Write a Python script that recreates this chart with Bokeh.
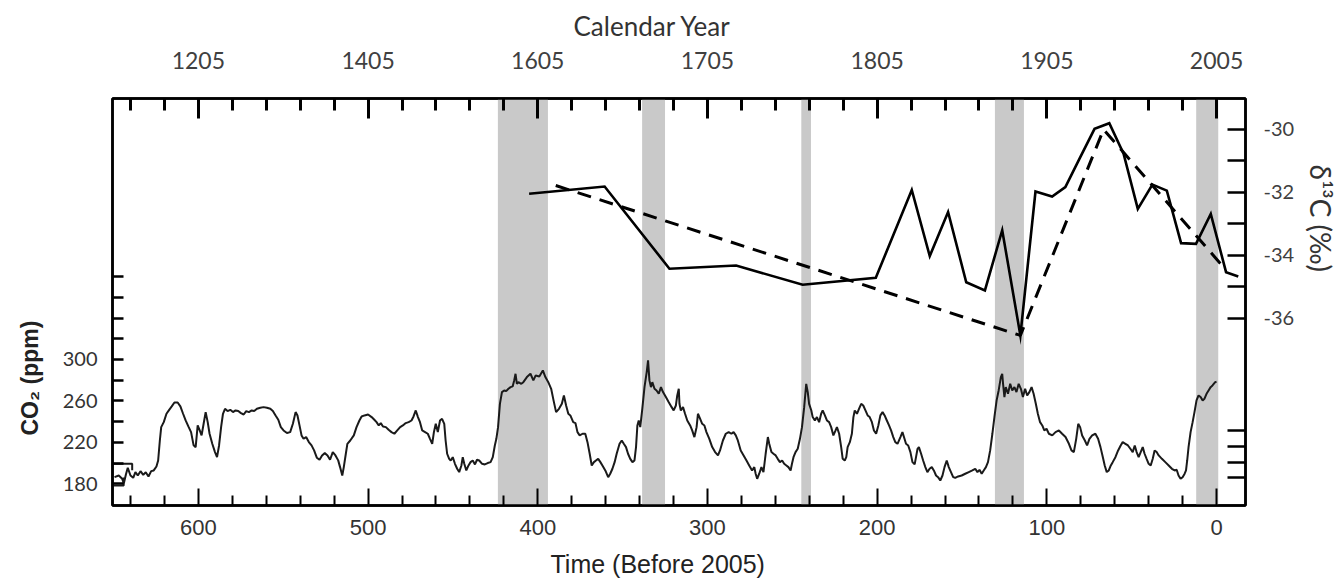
from bokeh.plotting import figure
from bokeh.models import Range1d, LinearAxis, FixedTicker, Title, ColumnDataSource
from bokeh.embed import file_html
from bokeh.resources import INLINE

# ---------------------------------------------------------------------------
# Data
# ---------------------------------------------------------------------------
# Atmospheric CO2 record (years before 2005, ppm)
co2_year = [
    649.4, 646.9, 644.9, 643.9, 642.7, 641.6, 640.0, 638.4, 637.1, 635.7, 634.1, 632.5,
    631.0, 629.4, 627.8, 626.3, 624.7, 623.7, 622.7, 621.9, 620.4, 618.8, 617.2, 615.7,
    614.1, 612.2, 610.6, 609.0, 607.5, 605.9, 604.3, 602.8, 601.6, 600.4, 599.2, 598.1,
    596.9, 595.7, 594.5, 593.4, 591.8, 590.2, 589.0, 587.8, 586.6, 585.5, 584.3, 582.8,
    581.2, 579.6, 578.1, 576.5, 574.9, 573.3, 571.8, 570.2, 568.6, 567.1, 565.5, 563.5,
    561.6, 559.6, 557.6, 556.1, 554.5, 552.9, 551.4, 549.8, 547.8, 545.9, 544.3, 542.7,
    541.6, 540.4, 539.2, 538.0, 536.5, 534.9, 533.3, 531.8, 530.2, 528.6, 527.1, 525.5,
    523.9, 522.4, 520.8, 519.2, 517.6, 516.5,
    515.2, 514.3, 513.1, 512.2, 510.5, 508.4, 506.8, 505.1, 503.8, 502.1, 500.0, 497.9,
    496.3, 495.0, 493.7, 492.5, 491.2, 489.5, 487.9, 486.2, 484.5, 482.8, 481.1, 479.5,
    477.8, 476.1, 474.4, 473.2, 471.9, 470.6, 469.4, 468.1, 466.4, 464.8, 463.5, 462.2,
    461.2, 460.1, 458.9, 457.6, 456.4, 455.1, 454.3, 453.4, 452.2, 451.3, 450.1, 448.8,
    447.5, 446.3, 445.0, 444.2, 443.3, 442.1, 440.8, 439.6, 438.3, 437.0, 435.8, 434.5,
    432.8, 431.2, 429.5, 427.8, 426.5, 425.3, 424.4, 423.4, 422.3, 421.1, 419.8, 418.6,
    417.3, 416.0, 414.8, 413.9, 413.1, 412.3, 411.4, 409.7,
    408.5, 406.4, 404.3, 402.6, 401.2, 399.1, 397.0, 395.5, 393.8, 392.1, 390.7, 389.2,
    387.5, 385.8, 384.6, 383.3, 382.0, 380.8, 379.1, 377.8, 376.6, 375.3, 373.6, 372.0,
    370.7, 369.4, 368.2, 366.9, 365.7, 364.4, 363.1, 361.9, 360.2, 358.5, 357.3, 356.0,
    354.7, 353.5, 351.8, 350.5, 349.3, 348.0, 346.8, 345.5, 344.2, 343.0, 342.1, 341.3,
    340.5, 339.6, 338.4, 337.1, 335.8, 335.0, 334.2, 333.3, 332.5, 331.2, 330.0, 328.7,
    327.4, 326.2, 324.5, 322.8, 321.1, 319.9, 318.6, 317.8, 316.9, 316.5, 315.7, 314.4,
    313.2, 311.9, 310.2, 309.0, 307.7, 306.4, 305.6, 304.3, 303.1, 301.8, 300.6, 298.9,
    297.2, 295.5, 293.8, 292.6, 290.9, 289.2, 287.5, 285.9, 284.6, 283.3, 282.1, 280.4,
    278.7, 277.0, 275.4, 273.7, 272.4, 271.6, 270.7, 269.5, 268.2, 267.0, 265.7, 264.4,
    263.6, 262.3, 261.1, 259.8, 258.6, 257.3, 256.0, 254.8, 253.5, 252.3, 251.0, 250.2,
    249.3, 248.1, 246.8, 245.5, 244.3, 243.0, 241.8, 240.9, 240.1, 238.8, 238.0, 236.7,
    235.5, 234.2, 233.0, 232.1, 230.8, 229.6, 228.3, 227.1, 225.8, 224.5, 223.7, 222.4,
    221.2, 220.3, 219.1, 218.2, 217.4, 216.1, 214.9, 214.0, 213.2, 211.9, 210.7, 209.4,
    208.2, 206.9, 205.6, 204.4, 203.1, 201.9, 200.6, 199.3, 198.1, 196.8, 195.6, 194.3,
    193.0, 191.8, 190.5, 189.3, 188.0, 186.3, 185.1, 184.2, 183.0, 181.7, 180.4, 179.2,
    177.9, 177.1, 176.2, 175.4, 174.1, 172.9, 171.6, 170.4, 169.1, 167.8, 166.6, 165.3,
    164.1, 162.8, 161.5, 160.3, 159.0, 157.8, 156.5, 155.2, 154.0, 152.3, 150.2, 148.1,
    146.0, 143.9, 142.2, 140.9, 139.7, 138.4, 137.2, 135.9, 134.7, 133.4, 132.1, 130.9,
    129.6, 128.4, 127.1, 126.3, 125.8, 125.0, 124.2, 122.9, 121.6, 120.4, 119.1, 117.9,
    116.6, 115.3, 114.1, 112.8, 111.6, 110.3, 109.0, 107.8, 106.5, 105.3, 104.0, 102.7,
    101.5, 100.2,
    98.8, 96.8, 94.9, 92.9, 91.0, 89.0, 87.0, 85.5, 84.1, 82.7, 81.5, 80.4,
    79.2, 77.6, 76.3, 74.9, 73.3, 71.4, 69.8, 68.4, 67.0, 65.9, 64.7, 63.5,
    62.3, 61.2, 59.6, 58.0, 56.5, 55.3, 53.7, 52.2, 50.8, 49.4, 48.2, 47.1,
    45.9, 44.7, 43.5, 42.4, 41.2, 40.0, 38.8, 37.6, 36.5, 35.3, 34.1, 32.2,
    30.2, 28.2, 26.3, 24.7, 23.5, 22.4, 21.2, 20.0, 18.8, 18.0, 17.3, 16.5,
    15.3, 14.1, 13.0, 11.8, 10.6, 9.4, 8.2, 7.1, 5.9, 4.7, 3.5, 2.4, 0.8, 0.0,
]
co2_ppm = [
    186.4, 188.0, 184.8, 180.6, 189.0, 195.4, 188.0, 185.8, 191.2, 188.0, 192.2, 188.6,
    191.2, 187.0, 192.2, 192.9, 196.7, 202.5, 221.8, 234.7, 239.5, 247.6, 251.4, 254.7,
    258.5, 258.5, 254.7, 247.6, 241.2, 235.4, 229.9, 217.1, 215.4, 236.4, 231.5, 226.7,
    238.0, 249.2, 239.5, 228.3, 218.7, 210.6, 205.8, 217.0, 234.7, 247.6, 252.4, 250.2,
    251.4, 249.2, 250.8, 250.2, 248.2, 246.9, 250.2, 249.2, 250.8, 250.2, 252.4, 253.4,
    254.0, 253.4, 252.4, 250.2, 245.9, 241.8, 234.7, 231.5, 229.0, 229.9, 238.0, 249.2,
    245.9, 236.4, 226.7, 223.5, 225.1, 220.3, 217.1, 212.3, 205.2, 203.2, 207.4, 209.6,
    207.4, 203.2, 210.6, 207.4, 202.6, 196.1,
    188.0, 196.1, 209.0, 218.6, 221.8, 226.7, 234.7, 241.1, 245.0, 246.0, 246.9, 244.4,
    241.8, 239.5, 236.3, 238.6, 235.3, 234.7, 232.1, 229.9, 228.3, 231.5, 234.7, 236.3,
    238.6, 239.5, 241.1, 245.0, 250.8, 244.4, 239.5, 231.5, 229.9, 228.3, 223.4, 218.6,
    229.9, 237.9, 229.9, 241.1, 242.7, 237.9, 221.8, 209.0, 204.1, 202.5, 205.7, 199.3,
    194.5, 191.3, 197.7, 205.7, 199.3, 192.9, 197.7, 200.9, 202.5, 198.7, 203.2, 202.5,
    199.3, 198.7, 200.0, 200.9, 205.7, 217.0, 223.4, 234.7, 257.2, 268.5, 270.1, 269.5,
    271.7, 273.3, 274.0, 279.8, 286.2, 276.5, 278.1, 276.5,
    278.1, 283.0, 286.2, 279.8, 284.6, 283.6, 289.4, 283.0, 278.1, 271.7, 260.5, 249.2,
    252.4, 257.2, 265.3, 255.6, 247.6, 246.0, 239.5, 238.6, 229.9, 226.7, 228.3, 228.3,
    220.2, 209.0, 197.7, 200.9, 202.5, 204.1, 200.9, 197.7, 192.9, 186.4, 189.7, 194.5,
    200.9, 209.0, 218.6, 221.8, 218.6, 215.4, 209.0, 204.1, 200.9, 202.5, 215.4, 236.3,
    241.1, 234.7, 252.4, 273.3, 287.8, 299.1, 279.8, 273.3, 278.1, 271.7, 270.1, 266.9,
    273.3, 268.5, 263.7, 258.8, 254.0, 250.8, 255.6, 265.3, 271.7, 257.2, 250.8, 254.0,
    247.6, 241.1, 236.3, 231.5, 225.1, 234.7, 247.6, 242.7, 237.9, 236.3, 229.9, 223.4,
    215.4, 210.6, 207.4, 212.2, 221.8, 228.3, 229.9, 228.3, 229.9, 226.7, 221.8, 212.2,
    207.4, 202.5, 197.7, 192.9, 196.1, 189.7, 184.8, 189.7, 196.1, 191.3, 209.0, 225.1,
    218.6, 210.6, 209.0, 207.4, 204.1, 200.9, 202.5, 199.3, 197.7, 196.1, 192.9, 199.3,
    205.7, 210.6, 213.8, 223.4, 234.7, 254.0, 276.5, 268.5, 257.2, 250.8, 244.4, 241.1,
    244.4, 239.5, 247.6, 250.8, 246.0, 241.1, 239.5, 234.7, 226.7, 231.5, 234.7, 228.3,
    215.4, 204.1, 202.5, 205.7, 215.4, 220.2, 228.3, 244.4, 250.8, 247.6, 252.4, 257.2,
    255.6, 250.8, 246.0, 244.4, 239.5, 231.5, 228.3, 236.3, 246.0, 249.2, 246.0, 241.1,
    236.3, 231.5, 225.1, 220.2, 218.6, 225.1, 229.9, 225.1, 218.6, 217.0, 210.6, 200.9,
    198.7, 205.7, 213.8, 215.4, 209.0, 202.5, 196.1, 191.3, 194.5, 196.1, 192.9, 188.0,
    186.4, 183.2, 188.0, 196.1, 202.5, 196.1, 191.3, 186.4, 185.8, 187.1, 188.0, 189.7,
    191.3, 192.9, 194.5, 191.3, 193.5, 189.7, 192.9, 196.1, 200.9, 212.2, 228.3, 244.4,
    260.5, 270.1, 283.0, 286.2, 276.5, 263.7, 273.3, 266.9, 276.5, 270.1, 273.3, 268.5,
    276.5, 271.7, 263.7, 271.7, 265.3, 268.5, 273.3, 266.9, 257.2, 247.6, 239.5, 236.3,
    231.5, 233.1,
    228.3, 226.7, 229.9, 231.5, 228.3, 225.1, 218.6, 212.2, 210.6, 223.4, 237.9, 234.7,
    226.7, 221.8, 217.0, 223.4, 226.7, 228.3, 223.4, 215.4, 205.7, 197.7, 191.3, 192.9,
    197.7, 200.9, 205.7, 212.2, 217.0, 220.2, 218.6, 217.0, 213.8, 210.6, 217.0, 210.6,
    205.7, 210.6, 215.4, 209.0, 204.1, 199.3, 197.7, 204.1, 212.2, 210.6, 207.4, 204.1,
    200.9, 197.7, 194.5, 192.9, 193.5, 188.0, 184.8, 186.4, 189.7, 192.9, 202.5, 215.4,
    229.9, 239.5, 249.2, 260.5, 265.3, 263.7, 260.5, 262.1, 266.9, 270.1, 273.3, 274.9,
    278.1, 278.5,
]

# Small bracket drawn at the start of the CO2 record
co2_bracket_upper_year = [650.6, 639.0, 639.0]
co2_bracket_upper_ppm = [199.3, 199.3, 193.0]
co2_bracket_lower_year = [650.6, 644.0, 644.0]
co2_bracket_lower_ppm = [178.4, 178.4, 186.0]

# delta-13C measurements (years before 2005, per mil)
d13c_year = [405.1, 360.6, 322.4, 283.1, 243.9, 200.8, 179.6, 169.0, 158.2, 147.5,
             136.5, 126.3, 115.6, 106.7, 96.9, 89.1, 80.3, 71.9, 63.2, 54.8,
             46.4, 37.8, 29.3, 20.9, 12.1, 3.4, -5.6, -12.8]
d13c_value = [-32.04, -31.81, -34.42, -34.32, -34.93, -34.71, -31.92, -34.02, -32.62, -34.85,
              -35.11, -33.20, -36.54, -31.97, -32.13, -31.83, -30.88, -29.98, -29.80, -30.77,
              -32.52, -31.75, -31.94, -33.61, -33.63, -32.68, -34.53, -34.67]

# Dashed trend through the delta-13C record
trend_year = [389.4, 115.6, 66.6, -3.0]
trend_value = [-31.78, -36.54, -30.00, -34.30]

# Shaded intervals (years before 2005)
band_start = [423.5, 338.5, 244.7, 130.6, 12.0]
band_end = [394.0, 325.0, 239.0, 113.5, -1.0]

# Axis ticks and labels
time_ticks = [600, 500, 400, 300, 200, 100, 0]
calendar_labels = ["1205", "1405", "1605", "1705", "1805", "1905", "2005"]
co2_labeled_ticks = [180, 220, 260, 300]
co2_other_ticks = [200, 240, 280, 320, 340, 360, 380]
d13c_labeled_ticks = [-30, -32, -34, -36]
d13c_tick_labels = ["-30", "-32", "-34", "-36"]
d13c_other_ticks = [-31, -33, -35, -39.56, -40.06, -40.57, -41.05]

# ---------------------------------------------------------------------------
# Figure
# ---------------------------------------------------------------------------
X0, X1 = 650.6, -17.06
Y0, Y1 = 159.05, 551.9
D0, D1 = -41.94, -29.016

p = figure(width=1341, height=588, output_backend="svg", toolbar_location=None,
           x_range=Range1d(X0, X1), y_range=Range1d(Y0, Y1),
           x_axis_location=None, y_axis_location=None,
           min_border_left=112, min_border_right=94,
           min_border_top=98, min_border_bottom=83,
           background_fill_color="white", border_fill_color="white")
p.extra_y_ranges = {"d13c": Range1d(D0, D1)}
p.xgrid.visible = False
p.ygrid.visible = False
p.outline_line_color = "black"
p.outline_line_width = 2.5

LABEL_FONT = "Lato"
minor_time = [v for v in range(640, 0, -20) if v % 100]


def style_axis(ax, tick_in, minor_in, width):
    ax.axis_line_color = "black"
    ax.axis_line_width = 2.5
    ax.major_tick_in = tick_in
    ax.major_tick_out = 0
    ax.minor_tick_in = minor_in
    ax.minor_tick_out = 0
    ax.major_tick_line_width = width
    ax.minor_tick_line_width = width
    ax.major_tick_line_color = "black"
    ax.minor_tick_line_color = "black"


# bottom axis: time before 2005
bottom = LinearAxis(ticker=FixedTicker(ticks=time_ticks, minor_ticks=minor_time))
style_axis(bottom, 17, 10, 2)
bottom.major_label_text_font = "Liberation Sans"
bottom.major_label_text_font_size = "22px"
bottom.major_label_text_color = "#333333"
bottom.major_label_standoff = 14
p.add_layout(bottom, "below")

# top axis: calendar year
top = LinearAxis(ticker=FixedTicker(ticks=time_ticks, minor_ticks=minor_time),
                 major_label_overrides=dict(zip(time_ticks, calendar_labels)))
style_axis(top, 20, 12, 3)
top.major_label_text_font = LABEL_FONT
top.major_label_text_font_size = "23px"
top.major_label_text_color = "#404040"
top.major_label_standoff = 30
p.add_layout(top, "above")

# left axis: CO2
left = LinearAxis(ticker=FixedTicker(ticks=co2_labeled_ticks, minor_ticks=co2_other_ticks))
style_axis(left, 11, 11, 2.5)
left.major_label_text_font = LABEL_FONT
left.major_label_text_font_size = "20px"
left.major_label_text_color = "#333333"
left.major_label_standoff = 15
p.add_layout(left, "left")

# right axis: delta-13C
right = LinearAxis(y_range_name="d13c",
                   ticker=FixedTicker(ticks=d13c_labeled_ticks, minor_ticks=d13c_other_ticks),
                   major_label_overrides=dict(zip(d13c_labeled_ticks, d13c_tick_labels)))
style_axis(right, 18, 18, 2.5)
right.major_label_text_font = LABEL_FONT
right.major_label_text_font_size = "20px"
right.major_label_text_color = "#404040"
right.major_label_standoff = 18
p.add_layout(right, "right")

# axis titles, placed beside their axes
p.add_layout(Title(text="Calendar Year", align="left", offset=461, standoff=9,
                   vertical_align="top", text_font=LABEL_FONT, text_font_size="26px",
                   text_font_style="normal", text_color="#333333"), "above")
p.add_layout(Title(text="Time (Before 2005)", align="left", offset=438, standoff=21,
                   vertical_align="bottom", text_line_height=0.6,
                   text_font="Liberation Sans", text_font_size="25px",
                   text_font_style="normal", text_color="#222222"), "below")
p.add_layout(Title(text="CO₂ (ppm)", align="left", offset=70, standoff=30,
                   vertical_align="top", text_line_height=0.8,
                   text_font="Liberation Sans", text_font_size="23px",
                   text_font_style="bold", text_color="#222222"), "left")
p.add_layout(Title(text="δ¹³C (‰)", align="left", offset=66, standoff=8,
                   vertical_align="top", text_line_height=0.6,
                   text_font=LABEL_FONT, text_font_size="28px",
                   text_font_style="normal", text_color="#333333"), "right")

# shaded intervals
bands = ColumnDataSource(dict(left=band_start, right=band_end,
                              bottom=[Y0] * len(band_start), top=[Y1] * len(band_start)))
p.quad(left="left", right="right", bottom="bottom", top="top", source=bands,
       fill_color="#c9c9c9", line_color=None)

# CO2 record
p.line(co2_year, co2_ppm, line_color="#1a1a1a", line_width=2)
p.line(co2_bracket_upper_year, co2_bracket_upper_ppm, line_color="#1a1a1a", line_width=2)
p.line(co2_bracket_lower_year, co2_bracket_lower_ppm, line_color="#1a1a1a", line_width=2)

# delta-13C record and its trend
p.line(trend_year, trend_value, y_range_name="d13c", line_color="black",
       line_width=3, line_dash="14 9")
p.line(d13c_year, d13c_value, y_range_name="d13c", line_color="black",
       line_width=2.6, line_join="miter")

open("out.html", "w").write(file_html(p, INLINE))
